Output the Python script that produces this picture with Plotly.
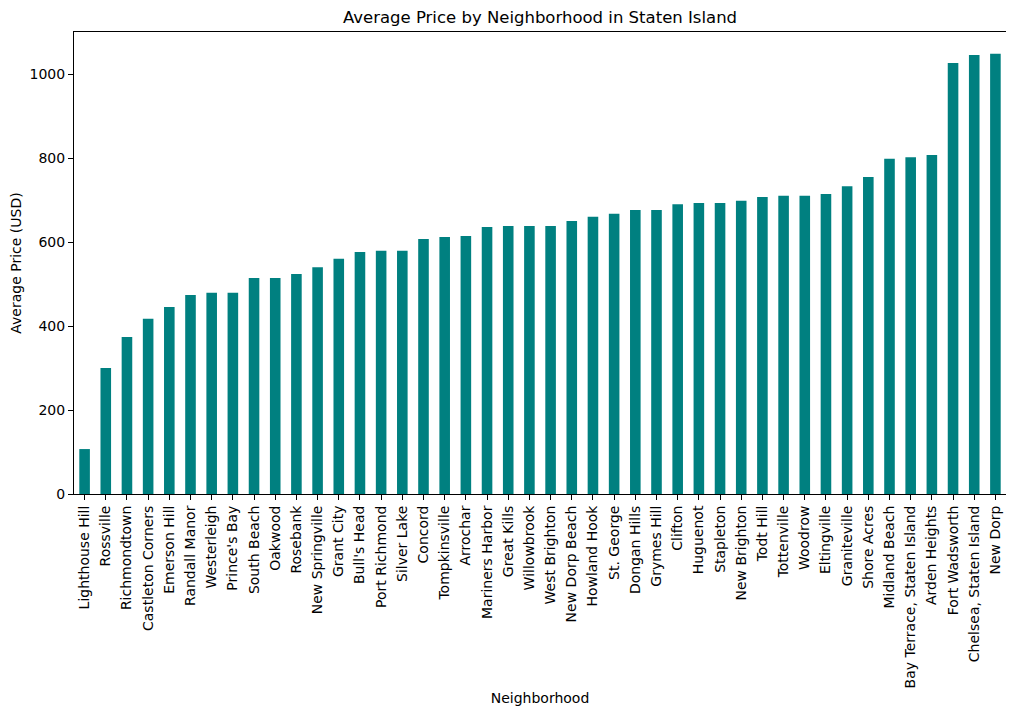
import plotly.graph_objects as go

neighborhoods = [
    "Lighthouse Hill", "Rossville", "Richmondtown", "Castleton Corners", "Emerson Hill",
    "Randall Manor", "Westerleigh", "Prince's Bay", "South Beach", "Oakwood",
    "Rosebank", "New Springville", "Grant City", "Bull's Head", "Port Richmond",
    "Silver Lake", "Concord", "Tompkinsville", "Arrochar", "Mariners Harbor",
    "Great Kills", "Willowbrook", "West Brighton", "New Dorp Beach", "Howland Hook",
    "St. George", "Dongan Hills", "Grymes Hill", "Clifton", "Huguenot",
    "Stapleton", "New Brighton", "Todt Hill", "Tottenville", "Woodrow",
    "Eltingville", "Graniteville", "Shore Acres", "Midland Beach",
    "Bay Terrace, Staten Island", "Arden Heights", "Fort Wadsworth",
    "Chelsea, Staten Island", "New Dorp",
]
avg_price = [
    107, 300, 374, 417, 445, 474, 479, 479, 514, 514,
    524, 540, 560, 576, 579, 579, 607, 612, 614, 636,
    638, 638, 638, 650, 660, 667, 676, 676, 690, 693,
    693, 698, 707, 710, 710, 714, 733, 755, 798,
    802, 807, 1026, 1045, 1048,
]

font = "DejaVu Sans, sans-serif"

fig = go.Figure(go.Bar(x=neighborhoods, y=avg_price, marker_color="teal", marker_line_width=0))

# page body has an 8px margin, so the plot box is shifted by that
fig.update_layout(
    width=1014, height=715,
    margin=dict(l=66, r=16, t=24, b=229),
    paper_bgcolor="white", plot_bgcolor="white",
    font=dict(family=font, size=14, color="black"),
    bargap=0.5,
    showlegend=False,
    title=dict(text="Average Price by Neighborhood in Staten Island",
               x=532 / 1014, xanchor="center", y=1 - 9 / 715, yanchor="middle",
               font=dict(size=16.5, family=font)),
)
fig.update_xaxes(
    title=dict(text="Neighborhood", standoff=5, font=dict(size=14)),
    tickangle=-90, ticks="outside", ticklen=5, tickcolor="black",
    showline=True, linecolor="black", mirror=True, showgrid=False,
    range=[-0.5, len(neighborhoods) - 0.5], automargin=False,
)
fig.update_yaxes(
    title=dict(text="Average Price (USD)", standoff=8, font=dict(size=14)),
    range=[0, 1100], dtick=200, ticks="outside", ticklen=5, tickcolor="black",
    showline=True, linecolor="black", mirror=True, showgrid=False, zeroline=False,
    automargin=False,
)

fig.write_html("out.html")
